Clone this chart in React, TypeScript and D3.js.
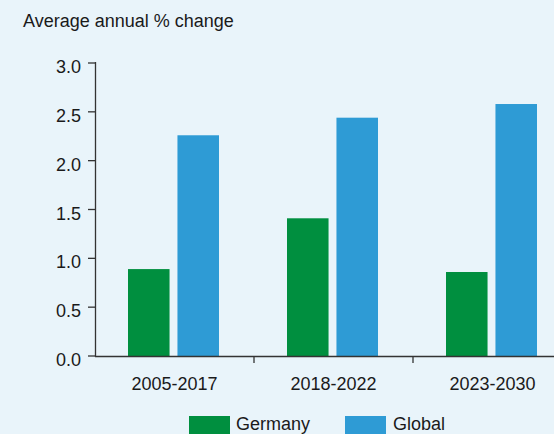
import React from "react";
import * as d3 from "d3";

const categories = ["2005-2017", "2018-2022", "2023-2030"];
const seriesNames = ["Germany", "Global"];
const germany = [0.89, 1.41, 0.86];
const global = [2.26, 2.44, 2.58];
const yTicks = [0, 0.5, 1, 1.5, 2, 2.5, 3];
const colors = ["#008f3f", "#2e9bd5"];

export default function App() {
  const W = 554, H = 434;
  const x0 = d3.scaleBand<string>().domain(categories).range([95, 95 + 159 * 3]);
  const x1 = d3.scaleBand<string>().domain(seriesNames).range([33, 124]).paddingInner(0.16);
  const y = d3.scaleLinear().domain([0, 3]).range([356, 63]);
  const values = [germany, global];
  const font = "'Liberation Sans', Arial, Helvetica, sans-serif";
  const fs = 18;
  return (
    <svg width={W} height={H} style={{ position: "absolute", left: 0, top: 0 }} fontFamily={font}>
      <rect width={W} height={H} fill="#e9f4fa" />
      <text x={23} y={27} fontSize={fs} fill="#1a1a1a">Average annual % change</text>
      {categories.map((c, i) =>
        seriesNames.map((s, j) => (
          <rect key={c + s} x={x0(c)! + x1(s)!} width={x1.bandwidth()} y={y(values[j][i])}
            height={y(0) - y(values[j][i])} fill={colors[j]} />
        ))
      )}
      <line x1={95} x2={W} y1={356.5} y2={356.5} stroke="#333" strokeWidth={1.3} />
      <line x1={95.5} x2={95.5} y1={62} y2={357} stroke="#333" strokeWidth={1.3} />
      {yTicks.map(t => (
        <g key={t}>
          <line x1={88} x2={95} y1={y(t)} y2={y(t)} stroke="#333" strokeWidth={1.3} />
          <text x={81} y={y(t) + 10} textAnchor="end" fontSize={fs} fill="#1a1a1a">{t.toFixed(1)}</text>
        </g>
      ))}
      {categories.map((c, i) => (
        <g key={c}>
          {i > 0 && <line x1={x0(c)!} x2={x0(c)!} y1={356} y2={363} stroke="#333" strokeWidth={1.3} />}
          <text x={x0(c)! + x0.bandwidth() / 2} y={390} textAnchor="middle" fontSize={fs} fill="#1a1a1a">{c}</text>
        </g>
      ))}
      {seriesNames.map((s, j) => (
        <g key={s}>
          <rect x={189 + j * 156} y={416} width={41} height={18} fill={colors[j]} />
          <text x={236 + j * 157} y={430} fontSize={fs} fill="#1a1a1a">{s}</text>
        </g>
      ))}
    </svg>
  );
}
